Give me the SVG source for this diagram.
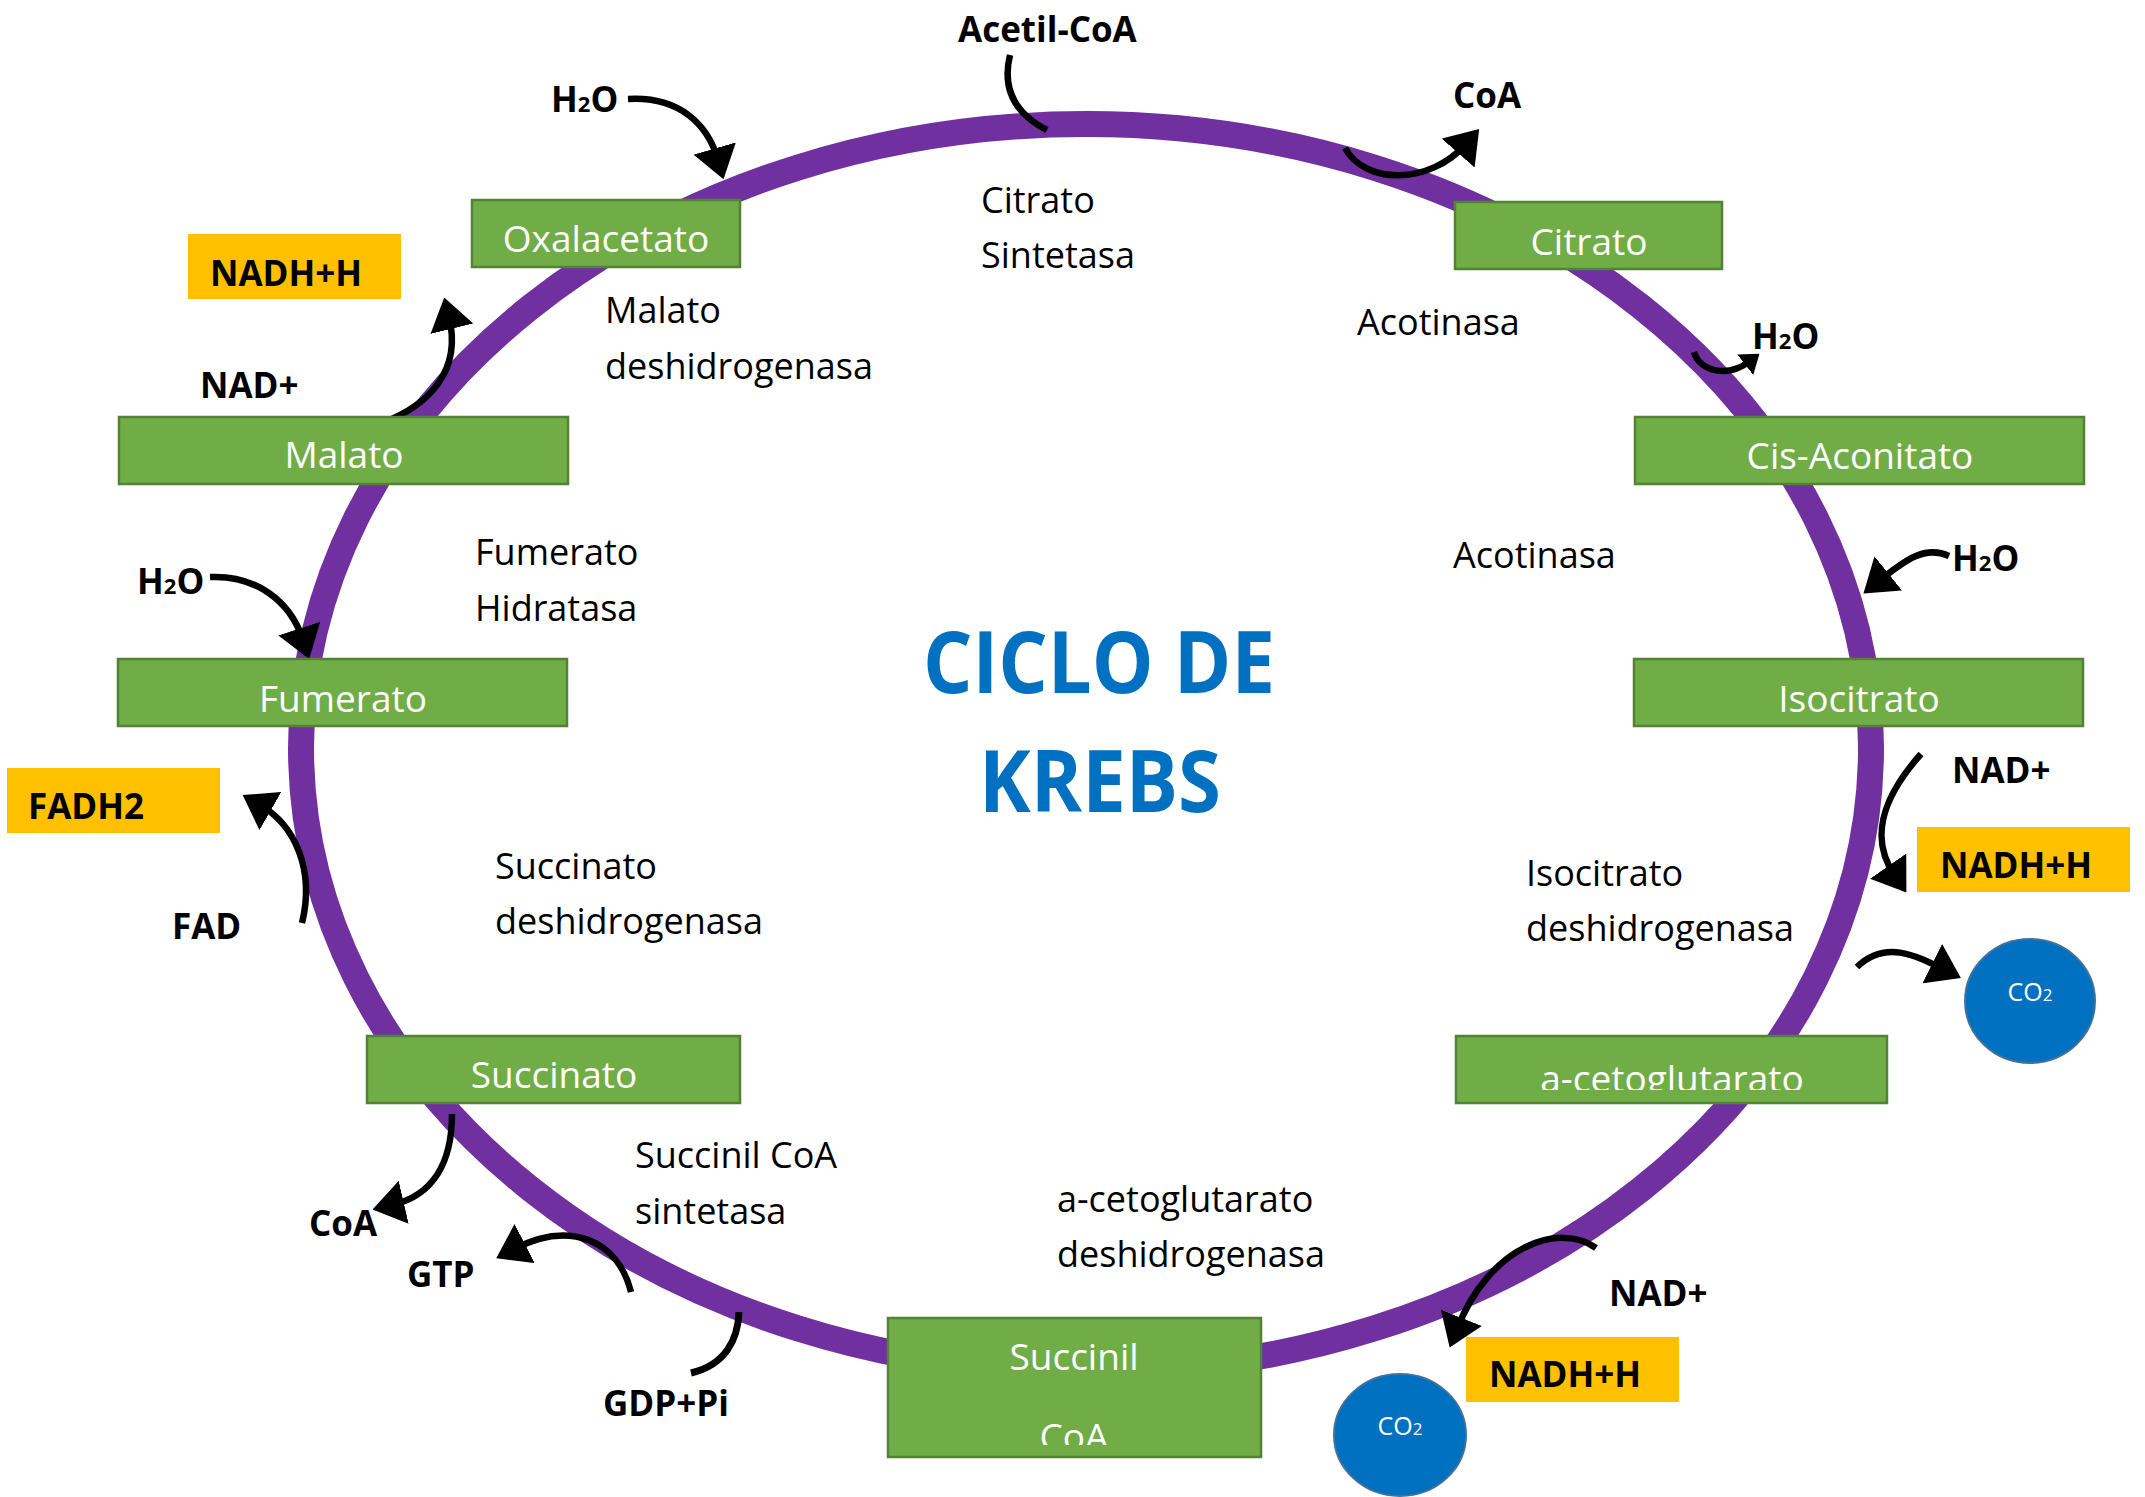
<svg xmlns="http://www.w3.org/2000/svg" width="2145" height="1497" viewBox="0 0 2145 1497">
<style>
.box{fill:#70AD47;stroke:#548235;stroke-width:2.5}
.bl{font-family:"Open Sans","Liberation Sans",sans-serif;font-size:37px;fill:#fff;text-anchor:middle}
.enz{font-family:"Open Sans","Liberation Sans",sans-serif;font-size:36px;fill:#000}
.b{font-family:"Open Sans","Liberation Sans",sans-serif;font-size:35px;font-weight:bold;fill:#000}
.yel{fill:#FFC000}
.co2{fill:#0070C0;stroke:#41719C;stroke-width:2}
.co2t{font-family:"Open Sans","Liberation Sans",sans-serif;font-size:25px;fill:#fff;text-anchor:middle}
.title{font-family:"Open Sans","Liberation Sans",sans-serif;font-size:86px;font-weight:bold;fill:#0070C0;text-anchor:middle}
.arr{fill:none;stroke:#000;stroke-width:6.5}
</style>
<defs>
<marker id="ah" viewBox="0 0 32 44" refX="12" refY="22" markerWidth="32" markerHeight="44" markerUnits="userSpaceOnUse" orient="auto"><path d="M0,0 L32,22 L0,44 z" fill="#000"/></marker>
<marker id="ahs" viewBox="0 0 18 26" refX="6" refY="13" markerWidth="18" markerHeight="26" markerUnits="userSpaceOnUse" orient="auto"><path d="M0,0 L18,13 L0,26 z" fill="#000"/></marker>
<clipPath id="clipA"><rect x="1456" y="1036" width="431" height="54"/></clipPath>
<clipPath id="clipS"><rect x="888" y="1318" width="373" height="127"/></clipPath>
</defs>
<rect width="2145" height="1497" fill="#fff"/>

<g id="ring"><ellipse cx="1086" cy="748" rx="785" ry="624" fill="none" stroke="#7030A0" stroke-width="26"/></g>

<g id="connectors">
<path class="arr" d="M1010,55 C1002,88 1014,113 1047,130"/>
<path class="arr" d="M628,99 C680,96 708,125 718,160" marker-end="url(#ah)"/>
<path class="arr" d="M1345,148 C1365,185 1430,185 1466,144" marker-end="url(#ah)"/>
<path class="arr" d="M1694,352 C1700,372 1728,378 1750,361" marker-end="url(#ahs)"/>
<path class="arr" d="M1949,556 C1925,545 1905,560 1879,581" marker-end="url(#ah)"/>
<path class="arr" d="M382,423 C430,405 462,370 449,317" marker-end="url(#ah)"/>
<path class="arr" d="M210,577 C255,575 290,600 303,640" marker-end="url(#ah)"/>
<path class="arr" d="M302,923 C315,870 295,825 260,805" marker-end="url(#ah)"/>
<path class="arr" d="M452,1114 C452,1160 435,1195 392,1205" marker-end="url(#ah)"/>
<path class="arr" d="M631,1292 C618,1240 570,1220 514,1249" marker-end="url(#ah)"/>
<path class="arr" d="M739,1312 C738,1340 725,1365 691,1373" style="stroke-width:7"/>
<path class="arr" d="M1921,754 C1880,800 1870,840 1895,876" marker-end="url(#ah)"/>
<path class="arr" d="M1857,967 C1885,940 1915,955 1943,969" marker-end="url(#ah)"/>
<path class="arr" d="M1596,1248 C1560,1222 1490,1245 1457,1329" marker-end="url(#ah)"/>
</g>

<g id="oxalacetato"><rect class="box" x="472" y="200" width="268" height="67"/><text class="bl" x="606" y="252">Oxalacetato</text></g>
<g id="citrato"><rect class="box" x="1455" y="202" width="267" height="67"/><text class="bl" x="1589" y="255">Citrato</text></g>
<g id="cis-aconitato"><rect class="box" x="1635" y="417" width="449" height="67"/><text class="bl" x="1860" y="469">Cis-Aconitato</text></g>
<g id="malato"><rect class="box" x="119" y="417" width="449" height="67"/><text class="bl" x="344" y="468">Malato</text></g>
<g id="fumerato"><rect class="box" x="118" y="659" width="449" height="67"/><text class="bl" x="343" y="712">Fumerato</text></g>
<g id="isocitrato"><rect class="box" x="1634" y="659" width="449" height="67"/><text class="bl" x="1859" y="712">Isocitrato</text></g>
<g id="succinato"><rect class="box" x="367" y="1036" width="373" height="67"/><text class="bl" x="554" y="1088">Succinato</text></g>
<g id="a-cetoglutarato"><rect class="box" x="1456" y="1036" width="431" height="67"/><text class="bl" x="1672" y="1092" clip-path="url(#clipA)">a-cetoglutarato</text></g>
<g id="succinil-coa"><rect class="box" x="888" y="1318" width="373" height="139"/><text class="bl" x="1074" y="1370">Succinil</text><text class="bl" x="1074" y="1450" clip-path="url(#clipS)">CoA</text></g>

<g id="nadh-top-left"><rect class="yel" x="188" y="234" width="213" height="65"/><text class="b" x="210" y="286">NADH+H</text></g>
<g id="fadh2"><rect class="yel" x="7" y="768" width="213" height="65"/><text class="b" x="28" y="819">FADH2</text></g>
<g id="nadh-right"><rect class="yel" x="1917" y="827" width="213" height="65"/><text class="b" x="1940" y="878">NADH+H</text></g>
<g id="nadh-bottom"><rect class="yel" x="1466" y="1337" width="213" height="65"/><text class="b" x="1489" y="1387">NADH+H</text></g>

<g id="co2-right"><ellipse class="co2" cx="2030" cy="1001" rx="65" ry="62"/><text class="co2t" x="2030" y="1001">CO<tspan font-size="17">2</tspan></text></g>
<g id="co2-bottom"><ellipse class="co2" cx="1400" cy="1435" rx="66" ry="61"/><text class="co2t" x="1400" y="1435">CO<tspan font-size="17">2</tspan></text></g>

<g id="title"><text class="title" x="1099" y="693" textLength="352" lengthAdjust="spacingAndGlyphs">CICLO DE</text><text class="title" x="1100" y="812" textLength="242" lengthAdjust="spacingAndGlyphs">KREBS</text></g>

<g id="labels">
<text class="b" x="958" y="42">Acetil-CoA</text>
<text class="b" x="551" y="112">H<tspan font-size="22">2</tspan>O</text>
<text class="b" x="1453" y="108">CoA</text>
<text class="b" x="1752" y="349">H<tspan font-size="22">2</tspan>O</text>
<text class="b" x="200" y="398">NAD+</text>
<text class="b" x="1952" y="571">H<tspan font-size="22">2</tspan>O</text>
<text class="b" x="137" y="594">H<tspan font-size="22">2</tspan>O</text>
<text class="b" x="1952" y="783">NAD+</text>
<text class="b" x="172" y="939">FAD</text>
<text class="b" x="309" y="1236">CoA</text>
<text class="b" x="407" y="1287">GTP</text>
<text class="b" x="603" y="1416">GDP+Pi</text>
<text class="b" x="1609" y="1306">NAD+</text>

<text class="enz" x="981" y="213">Citrato</text>
<text class="enz" x="981" y="268">Sintetasa</text>
<text class="enz" x="1357" y="335">Acotinasa</text>
<text class="enz" x="605" y="323">Malato</text>
<text class="enz" x="605" y="379">deshidrogenasa</text>
<text class="enz" x="475" y="565">Fumerato</text>
<text class="enz" x="475" y="621">Hidratasa</text>
<text class="enz" x="1453" y="568">Acotinasa</text>
<text class="enz" x="495" y="879">Succinato</text>
<text class="enz" x="495" y="934">deshidrogenasa</text>
<text class="enz" x="1526" y="886">Isocitrato</text>
<text class="enz" x="1526" y="941">deshidrogenasa</text>
<text class="enz" x="635" y="1168">Succinil CoA</text>
<text class="enz" x="635" y="1224">sintetasa</text>
<text class="enz" x="1057" y="1212">a-cetoglutarato</text>
<text class="enz" x="1057" y="1267">deshidrogenasa</text>
</g>
</svg>
